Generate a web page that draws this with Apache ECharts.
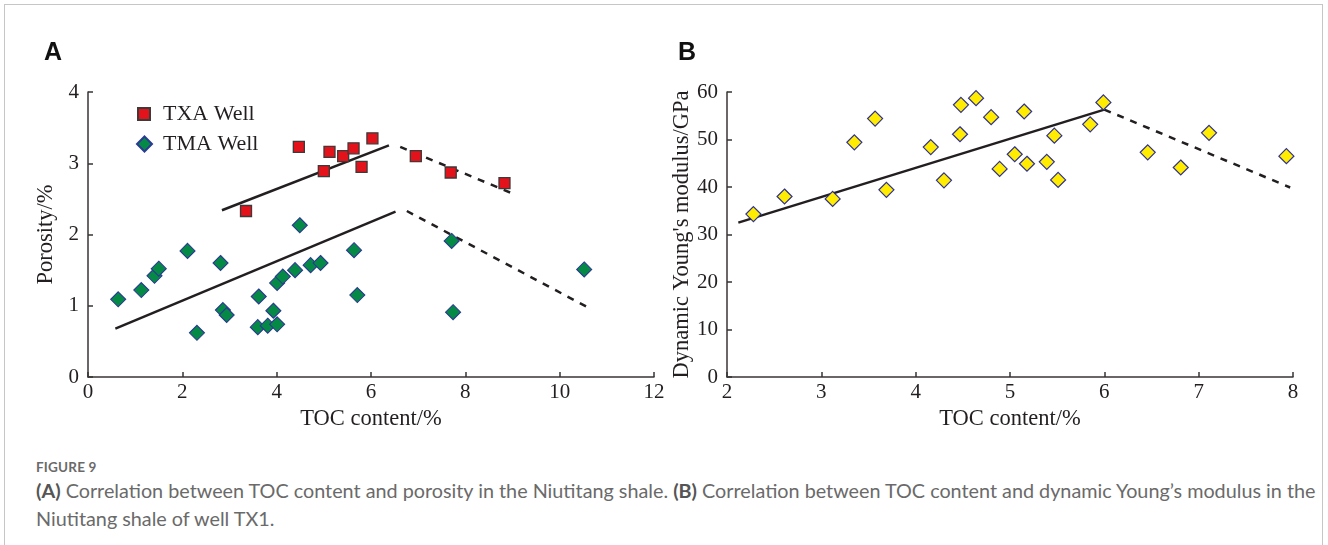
<!DOCTYPE html>
<html>
<head>
<meta charset="utf-8">
<script src="https://cdn.jsdelivr.net/npm/echarts@6/dist/echarts.min.js"></script>
<style>
  html, body { margin: 0; padding: 0; background: #fff; }
  #wrap { position: relative; width: 1328px; height: 545px; overflow: hidden; }
  #frame { position: absolute; left: 4px; top: 4px; width: 1319px; height: 600px; border: 1px solid #c6c6c6; box-sizing: border-box; }
  #chart { position: absolute; left: 0; top: 0; width: 1328px; height: 450px; }
  #caption { position: absolute; left: 36px; top: 458px; font-family: Lato, 'Open Sans', sans-serif; color: #6a6a6a; white-space: nowrap; }
  #caption .fig { font-size: 13.5px; font-weight: 700; color: #6a6a6a; letter-spacing: 0.2px; line-height: 18px; }
  #caption .txt { font-size: 19.8px; line-height: 28px; }
  #caption b { font-weight: 700; color: #555; }
</style>
</head>
<body>
<div id="wrap">
  <div id="frame"></div>
  <div id="chart"></div>
  <div id="caption">
    <div class="fig">FIGURE 9</div>
    <div class="txt"><b>(A)</b> Correlation between TOC content and porosity in the Niutitang shale. <b>(B)</b> Correlation between TOC content and dynamic Young’s modulus in the</div>
    <div class="txt">Niutitang shale of well TX1.</div>
  </div>
</div>
<script>
// panel A - porosity vs TOC
const txaToc = [3.35, 4.47, 5.00, 5.12, 5.41, 5.63, 5.80, 6.03, 6.95, 7.69, 8.83]
const txaPor = [2.33, 3.23, 2.89, 3.16, 3.10, 3.21, 2.95, 3.35, 3.10, 2.87, 2.72]
const tmaToc = [0.64, 1.13, 1.41, 1.50, 2.11, 2.31, 2.81, 2.86, 2.94, 3.62, 3.60, 3.81, 3.93,
  4.01, 4.01, 4.13, 4.39, 4.49, 4.72, 4.93, 5.64, 5.71, 7.71, 7.74, 10.52]
const tmaPor = [1.09, 1.22, 1.42, 1.52, 1.77, 0.62, 1.60, 0.94, 0.87, 1.13, 0.70, 0.72, 0.93,
  0.74, 1.32, 1.41, 1.50, 2.13, 1.57, 1.60, 1.78, 1.15, 1.91, 0.91, 1.51]
// trend lines, A
const txaFit = [[2.84, 2.34], [6.38, 3.25]]
const txaFall = [[6.62, 3.23], [9.02, 2.57]]
const tmaFit = [[0.58, 0.68], [6.52, 2.32]]
const tmaFall = [[6.76, 2.33], [10.56, 0.99]]

// panel B - dynamic Young's modulus vs TOC
const bToc = [2.28, 2.61, 3.12, 3.35, 3.57, 3.69, 4.16, 4.30, 4.47, 4.48, 4.64, 4.80, 4.89,
  5.05, 5.15, 5.18, 5.39, 5.47, 5.51, 5.85, 5.99, 6.46, 6.81, 7.11, 7.93]
const bMod = [34.3, 38.0, 37.5, 49.4, 54.4, 39.4, 48.4, 41.4, 51.1, 57.3, 58.7, 54.7, 43.8,
  46.9, 55.9, 44.9, 45.3, 50.8, 41.5, 53.2, 57.8, 47.3, 44.1, 51.4, 46.5]
const bFit = [[2.12, 32.5], [6.0, 56.3]]
const bFall = [[6.0, 56.3], [7.97, 39.9]]

const serif = 'Liberation Serif, Times New Roman, serif'
const ink = '#231f20'

const zip = (xs, ys) => xs.map((x, i) => [x, ys[i]])

function axisX(gridIndex, min, max, interval) {
  return {
    type: 'value', gridIndex, min, max, interval, name: 'TOC content/%',
    nameLocation: 'middle', nameGap: 31,
    nameTextStyle: { fontFamily: serif, fontSize: 22.5, color: ink },
    axisLine: { lineStyle: { color: '#3a3535', width: 1.5 } },
    axisTick: { inside: true, length: 5, lineStyle: { color: '#3a3535', width: 1.5 } },
    axisLabel: { fontFamily: serif, fontSize: 21, color: ink, margin: 5 },
    splitLine: { show: false },
  }
}

function axisY(gridIndex, min, max, interval, name, gap) {
  return {
    type: 'value', gridIndex, min, max, interval, name,
    nameLocation: 'middle', nameGap: gap, nameRotate: 90,
    nameTextStyle: { fontFamily: serif, fontSize: 22.5, color: ink },
    axisLine: { show: true, lineStyle: { color: '#3a3535', width: 1.5 } },
    axisTick: { show: true, inside: true, length: 5, lineStyle: { color: '#3a3535', width: 1.5 } },
    axisLabel: { fontFamily: serif, fontSize: 21, color: ink, margin: 9 },
    splitLine: { show: false },
  }
}

function trend(name, xi, data, dashed) {
  return {
    name, type: 'line', xAxisIndex: xi, yAxisIndex: xi, data,
    symbol: 'none', silent: true, z: 1,
    lineStyle: { color: ink, width: 2.5, type: dashed ? [7, 7] : 'solid' },
  }
}

const chart = echarts.init(document.getElementById('chart'), null, { renderer: 'canvas' })
chart.setOption({
  animation: false,
  backgroundColor: 'transparent',
  title: [
    { text: 'A', left: 39, top: 36, textStyle: { fontFamily: 'Liberation Sans, Arial, sans-serif', fontSize: 25, fontWeight: 'bold', color: '#111' } },
    { text: 'B', left: 673, top: 36, textStyle: { fontFamily: 'Liberation Sans, Arial, sans-serif', fontSize: 25, fontWeight: 'bold', color: '#111' } },
  ],
  legend: [
    {
      data: ['TXA Well'], left: 132, top: 98, orient: 'vertical',
      itemWidth: 12, itemHeight: 12,
      textStyle: { fontFamily: serif, fontSize: 22, color: ink, padding: [0, 0, 0, 8] },
    },
    {
      data: ['TMA Well'], left: 131, top: 128, orient: 'vertical',
      itemWidth: 15, itemHeight: 15,
      textStyle: { fontFamily: serif, fontSize: 22, color: ink, padding: [0, 0, 0, 6] },
    },
  ],
  grid: [
    { left: 88, top: 92, width: 566, height: 285 },
    { left: 727, top: 92, width: 566, height: 285 },
  ],
  xAxis: [axisX(0, 0, 12, 2), axisX(1, 2, 8, 1)],
  yAxis: [
    axisY(0, 0, 4, 1, 'Porosity/%', 30),
    axisY(1, 0, 60, 10, "Dynamic Young's modulus/GPa", 28),
  ],
  series: [
    trend('txaFit', 0, txaFit, false),
    trend('txaFall', 0, txaFall, true),
    trend('tmaFit', 0, tmaFit, false),
    trend('tmaFall', 0, tmaFall, true),
    trend('bFit', 1, bFit, false),
    trend('bFall', 1, bFall, true),
    {
      name: 'TXA Well', type: 'scatter', xAxisIndex: 0, yAxisIndex: 0,
      data: zip(txaToc, txaPor), symbol: 'rect', symbolSize: 11, z: 3,
      itemStyle: { color: '#e3121b', borderColor: '#3d3a3a', borderWidth: 1.3, opacity: 1 },
    },
    {
      name: 'TMA Well', type: 'scatter', xAxisIndex: 0, yAxisIndex: 0,
      data: zip(tmaToc, tmaPor), symbol: 'diamond', symbolSize: 15, z: 3,
      itemStyle: { color: '#058a46', borderColor: '#2b3a93', borderWidth: 1.1, opacity: 1 },
    },
    {
      name: 'TX1', type: 'scatter', xAxisIndex: 1, yAxisIndex: 1,
      data: zip(bToc, bMod), symbol: 'diamond', symbolSize: 15, z: 3,
      itemStyle: { color: '#ffec00', borderColor: '#2e3192', borderWidth: 1.2, opacity: 1 },
    },
  ],
})
</script>
</body>
</html>
